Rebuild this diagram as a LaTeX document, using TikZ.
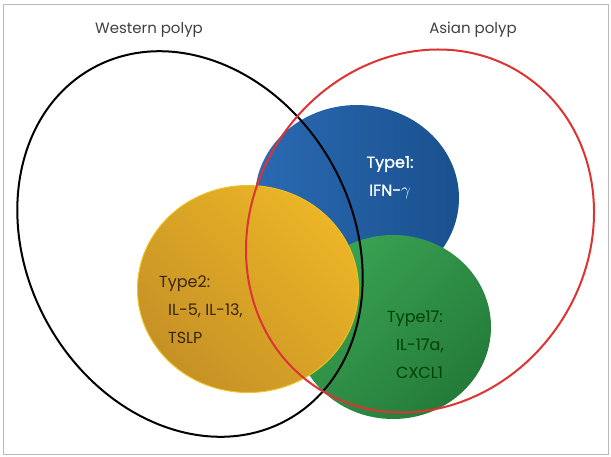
\documentclass[tikz,border=0pt]{standalone}
\usepackage{fontspec}
\setmainfont{Poppins}
\newfontfamily\heavierfont{Poppins}[FakeBold=1.2]
\usetikzlibrary{shapes.geometric}

\definecolor{typeoneblue}{HTML}{1F62AE}
\definecolor{typetwoorange}{HTML}{E9AB2C}
\definecolor{typeseventeengreen}{HTML}{2F9E4A}
\definecolor{polypred}{HTML}{DD3333}

\begin{document}
\begin{tikzpicture}[x=1pt,y=-1pt,
    blob/.style={ellipse,inner sep=0pt,outer sep=0pt},
    polyp/.style={ellipse,draw,line width=2pt,inner sep=0pt,outer sep=0pt},
    caption/.style={font=\fontsize{15}{18}\selectfont,text=black!75},
    cyto/.style={font=\fontsize{16}{28}\selectfont,align=left,inner sep=0pt}]

                \useasboundingbox (0,0) rectangle (611,456);
                \draw[gray!55,line width=1pt] (3,4) rectangle (608,454);

                \node[blob,minimum width=204pt,minimum height=186pt,
                      left color=typeoneblue!95!white,right color=typeoneblue!82!black] (t1) at (357,198) {};
                \node[blob,minimum width=196pt,minimum height=184pt,
                      top color=typeseventeengreen!95!white,bottom color=typeseventeengreen!78!black,shading angle=45] (t17) at (393,327) {};
                \node[blob,minimum width=221pt,minimum height=207pt,draw=typetwoorange!75!yellow,line width=1pt,
                      top color=typetwoorange!88!yellow,bottom color=typetwoorange!85!black,shading angle=-45] (t2) at (248,289) {};

                \node[polyp,minimum width=326pt,minimum height=402pt,rotate=29] (west) at (190,244) {};
                \node[polyp,draw=polypred,minimum width=335pt,minimum height=375pt,rotate=-34] (asia) at (420,231) {};

                \node[caption,anchor=base] (westlbl) at (149,33) {Western polyp};
                \node[caption,anchor=base] (asialbl) at (473,33) {Asian polyp};

                \node[cyto,align=center,text=white,anchor=north,font=\fontsize{16}{28}\selectfont\heavierfont] (t1txt) at (390,156)
                    {Type1:\\IFN-$\gamma$};
                \node[cyto,text=black!70!brown,anchor=north west] (t2txt) at (159,276)
                    {Type2:\\\hspace{9pt}IL-5, IL-13,\\\hspace{9pt}TSLP};
                \node[cyto,text=black!75!green,anchor=north west] (t17txt) at (387,311)
                    {Type17:\\\hspace{9pt}IL-17a,\\\hspace{9pt}CXCL1};

\end{tikzpicture}
\end{document}
